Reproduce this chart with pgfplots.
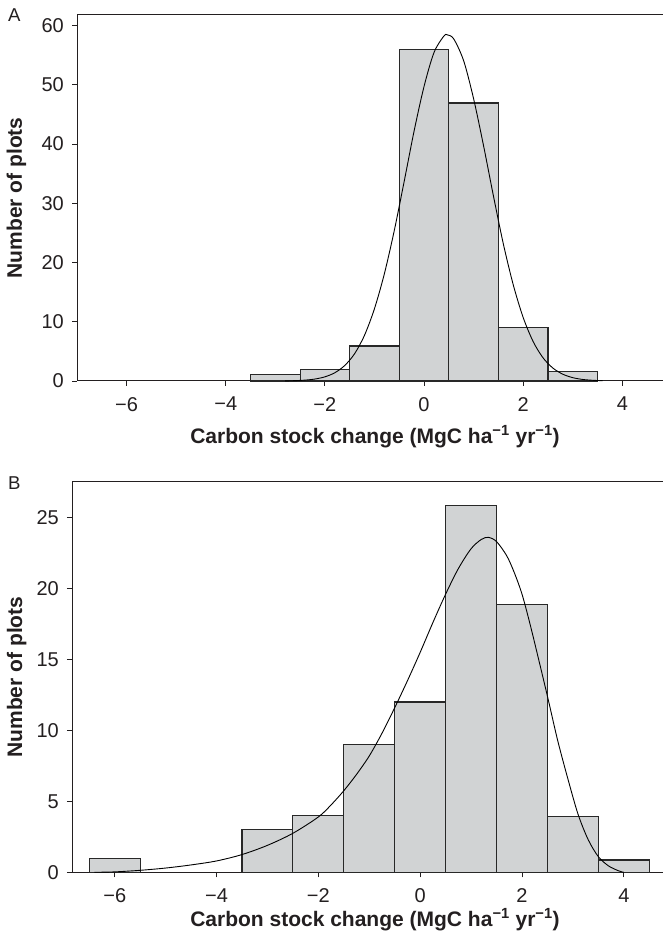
\documentclass[border=0pt]{standalone}
\usepackage{fontspec}
\setmainfont{Liberation Sans}
\usepackage{pgfplots}
\pgfplotsset{compat=1.18}
\definecolor{barfill}{RGB}{209,211,212}
\definecolor{baredge}{RGB}{40,40,40}
\definecolor{ink}{RGB}{35,31,32}
\pgfplotsset{
  hist/.style={
    scale only axis,
    axis lines*=left,
    axis line style={-, color=ink, line width=1pt},
    tick align=outside,
    major tick length=5pt,
    tick style={ink, line width=0.8pt},
    ymin=0,
    xtick={-6,-4,-2,0,2,4},
    xticklabels={−6,−4,−2,0,2,4},
    ticklabel style={font=\fontsize{20}{24}\selectfont, text=ink},
    xticklabel style={inner sep=0pt, anchor=north, yshift=-11pt},
    yticklabel style={inner sep=0pt, anchor=east, xshift=-8pt},
    label style={font=\fontsize{21}{25}\selectfont\bfseries, text=ink, inner sep=0pt},
    xlabel={Carbon stock change (MgC ha\textsuperscript{−1} yr\textsuperscript{−1})},
    ylabel={Number of plots},
    clip=false,
  }
}
\begin{document}
\begin{tikzpicture}
\useasboundingbox (0pt,0pt) rectangle (663pt,941pt);
% Panel A
\begin{axis}[hist,
  at={(77pt,560pt)}, anchor=south west,
  width=586pt, height=366.3pt,
  xmin=-7, xmax=4.82, ymax=61.8,
  ytick={0,10,20,30,40,50,60},
  yticklabels={0,10,20,30,40,50,60},
  xlabel style={at={(axis description cs:0.5085,-0.1693)}, anchor=base},
  ylabel style={at={(axis description cs:-0.0939,0.5)}, anchor=base},
]
\addplot[ybar, bar width=1, fill=barfill, draw=baredge, line width=1.1pt]
  coordinates {(-3,1.1) (-2,1.9) (-1,5.9) (0,55.9) (1,46.9) (2,9.1) (3,1.6)};
\addplot[smooth, no marks, color=black, line width=0.9pt] coordinates {
(-2.8,0.02) (-2.6,0.06) (-2.4,0.15) (-2.2,0.33) (-2.0,0.70) (-1.8,1.39)
(-1.6,2.61) (-1.4,4.61) (-1.2,7.73) (-1.0,12.2) (-0.8,18.1) (-0.6,25.4)
(-0.4,33.7) (-0.2,42.2) (0.0,49.7) (0.2,55.4) (0.4,58.2) (0.47,58.4)
(0.6,57.7) (0.8,54.0) (1.0,47.6) (1.2,39.7) (1.4,31.2) (1.6,23.1)
(1.8,16.2) (2.0,10.7) (2.2,6.66) (2.4,3.91) (2.6,2.17) (2.8,1.14)
(3.0,0.56) (3.2,0.26) (3.4,0.12) (3.6,0.05)};
\draw[color=ink, line width=1pt] (rel axis cs:0,1) -- (rel axis cs:1,1);
\end{axis}
% Panel B
\begin{axis}[hist,
  at={(72pt,68.7pt)}, anchor=south west,
  width=591pt, height=390.3pt,
  xmin=-6.84, xmax=4.77, ymax=27.5,
  ytick={0,5,10,15,20,25},
  yticklabels={0,5,10,15,20,25},
  xlabel style={at={(axis description cs:0.5127,-0.1384)}, anchor=base},
  ylabel style={at={(axis description cs:-0.0846,0.5)}, anchor=base},
]
\addplot[ybar, bar width=1, fill=barfill, draw=baredge, line width=1.1pt]
  coordinates {(-6,1) (-3,3) (-2,4) (-1,9) (0,12) (1,25.85) (2,18.85) (3,3.9) (4,0.87)};
\addplot[smooth, no marks, color=black, line width=0.9pt] coordinates {
(-6.4,0.0) (-6.0,0.03) (-5.5,0.14) (-5.0,0.30) (-4.5,0.52) (-4.0,0.80)
(-3.5,1.25) (-3.0,1.90) (-2.5,2.75) (-2.0,3.90) (-1.75,4.75) (-1.5,5.75)
(-1.25,6.9) (-1.0,8.2) (-0.75,9.8) (-0.5,11.6) (-0.25,13.5) (0.0,15.5)
(0.25,17.6) (0.5,19.6) (0.75,21.4) (1.0,22.8) (1.2,23.45) (1.34,23.6)
(1.5,23.3) (1.7,22.3) (1.85,21.1) (2.0,19.6) (2.15,17.6) (2.3,15.4)
(2.5,12.4) (2.7,9.3) (2.9,6.6) (3.1,4.1) (3.3,2.3) (3.5,1.1)
(3.7,0.45) (3.9,0.1) (4.0,0.0)};
\draw[color=ink, line width=1pt] (rel axis cs:0,1) -- (rel axis cs:1,1);
\end{axis}
\node[anchor=base west, inner sep=0pt, font=\fontsize{18.6}{22}\selectfont, text=ink] at (8pt,919.3pt) {A};
\node[anchor=base west, inner sep=0pt, font=\fontsize{18.6}{22}\selectfont, text=ink] at (8pt,451pt) {B};
\end{tikzpicture}
\end{document}
